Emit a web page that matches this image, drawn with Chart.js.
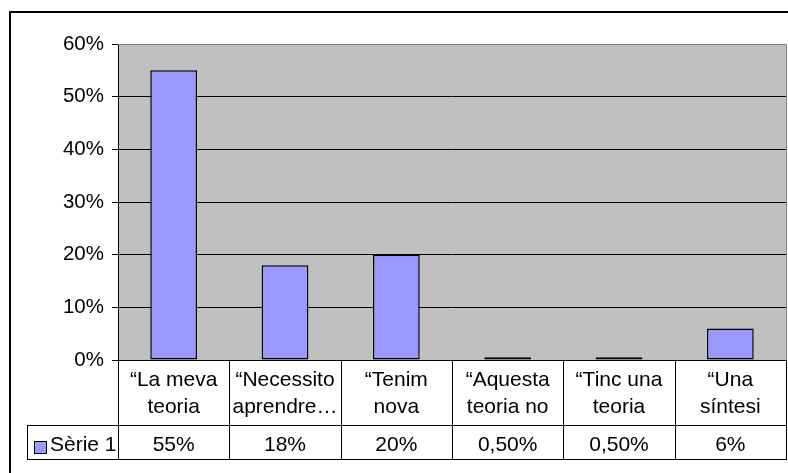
<!DOCTYPE html>
<html>
<head>
<meta charset="utf-8">
<style>
  html, body { margin: 0; padding: 0; background: #ffffff; }
  #wrap { width: 788px; height: 473px; position: relative; }
  canvas { display: block; }
</style>
<script src="https://cdn.jsdelivr.net/npm/chart.js@4/dist/chart.umd.min.js"></script>
</head>
<body>
<div id="wrap"><canvas id="c" width="788" height="473"></canvas></div>
<script>
// ---- data ----
const categories = [
  ["\u201CLa meva", "teoria"],
  ["\u201CNecessito", "aprendre\u2026"],
  ["\u201CTenim", "nova"],
  ["\u201CAquesta", "teoria no"],
  ["\u201CTinc una", "teoria"],
  ["\u201CUna", "s\u00EDntesi"]
];
const seriesName = "S\u00E8rie 1";
const seriesValues = [55, 18, 20, 0.5, 0.5, 6];
const valueLabels = ["55%", "18%", "20%", "0,50%", "0,50%", "6%"];
const yTickLabels = ["0%", "10%", "20%", "30%", "40%", "50%", "60%"];

const FONT = "'Liberation Sans', Arial, sans-serif";
const BAR_COLOR = "#9999FF";

const backgroundPlugin = {
  id: 'bg',
  beforeDraw(chart) {
    const ctx = chart.ctx;
    const a = chart.chartArea;
    ctx.save();
    ctx.fillStyle = '#ffffff';
    ctx.fillRect(0, 0, chart.width, chart.height);
    // outer frame
    ctx.strokeStyle = '#000000';
    ctx.lineWidth = 2;
    ctx.strokeRect(10, 12, chart.width + 20, chart.height + 20);
    // plot area
    ctx.fillStyle = '#C0C0C0';
    ctx.fillRect(a.left, a.top, a.right - a.left, a.bottom - a.top);
    ctx.restore();
  },
  afterDatasetsDraw(chart) {
    const ctx = chart.ctx;
    const a = chart.chartArea;
    ctx.save();
    ctx.strokeStyle = '#808080';
    ctx.lineWidth = 1;
    ctx.beginPath();
    ctx.moveTo(a.left, Math.round(a.top) + 0.5);
    ctx.lineTo(Math.round(a.right) + 0.5, Math.round(a.top) + 0.5);
    ctx.lineTo(Math.round(a.right) + 0.5, a.bottom);
    ctx.stroke();
    ctx.restore();
  }
};

const tablePlugin = {
  id: 'datatable',
  afterDraw(chart) {
    const ctx = chart.ctx;
    const xs = chart.scales.x;
    const a = chart.chartArea;
    const n = categories.length;
    const cw = (a.right - a.left) / n;
    const top = Math.round(a.bottom);
    const rowY = top + 65;
    const bottom = top + 99;
    const legendLeft = 27;
    ctx.save();
    ctx.strokeStyle = '#000000';
    ctx.lineWidth = 1;
    ctx.beginPath();
    // horizontal lines
    ctx.moveTo(legendLeft, rowY + 0.5); ctx.lineTo(Math.round(a.right) + 1, rowY + 0.5);
    ctx.moveTo(legendLeft, bottom + 0.5); ctx.lineTo(Math.round(a.right) + 1, bottom + 0.5);
    ctx.moveTo(legendLeft + 0.5, rowY); ctx.lineTo(legendLeft + 0.5, bottom + 1);
    // vertical lines at category boundaries
    for (let i = 0; i <= n; i++) {
      const cx = i < n ? xs.getPixelForValue(i) - cw / 2 : xs.getPixelForValue(n - 1) + cw / 2;
      const px = Math.round(cx) + 0.5;
      ctx.moveTo(px, top);
      ctx.lineTo(px, bottom + 1);
    }
    ctx.stroke();

    ctx.fillStyle = '#000000';
    ctx.font = '21px ' + FONT;
    ctx.textAlign = 'center';
    ctx.textBaseline = 'alphabetic';
    for (let i = 0; i < n; i++) {
      const cx = xs.getPixelForValue(i);
      ctx.fillText(categories[i][0], cx, top + 26);
      ctx.fillText(categories[i][1], cx, top + 53);
      ctx.fillText(valueLabels[i], cx, top + 91);
    }
    // legend key
    ctx.fillStyle = BAR_COLOR;
    ctx.fillRect(34, top + 81, 12, 12);
    ctx.strokeStyle = '#000000';
    ctx.strokeRect(34.5, top + 81.5, 12, 12);
    ctx.fillStyle = '#000000';
    ctx.textAlign = 'left';
    ctx.fillText(seriesName, 50, top + 91);
    ctx.restore();
  }
};

new Chart(document.getElementById('c'), {
  type: 'bar',
  data: {
    labels: categories,
    datasets: [{
      label: seriesName,
      data: seriesValues,
      backgroundColor: BAR_COLOR,
      borderColor: '#000000',
      borderWidth: 1.5,
      borderSkipped: false,
      categoryPercentage: 1.0,
      barPercentage: 0.42
    }]
  },
  options: {
    responsive: false,
    animation: false,
    devicePixelRatio: 1,
    layout: { padding: { top: 44, right: 2, bottom: 113, left: 0 } },
    plugins: {
      legend: { display: false },
      tooltip: { enabled: false },
      title: { display: false }
    },
    scales: {
      x: { display: false },
      y: {
        min: 0,
        max: 60,
        afterFit(scale) { scale.width = 118; },
        ticks: {
          stepSize: 10,
          padding: 8,
          color: '#000000',
          font: { family: FONT, size: 20.5 },
          callback: (v, i) => yTickLabels[i]
        },
        grid: {
          color: (c) => (c.tick && c.tick.value === 60) ? '#808080' : '#000000',
          tickColor: '#000000',
          lineWidth: 1,
          tickLength: 6,
          drawTicks: true
        },
        border: { display: true, color: '#000000', width: 1 }
      }
    }
  },
  plugins: [backgroundPlugin, tablePlugin]
});
</script>
</body>
</html>
